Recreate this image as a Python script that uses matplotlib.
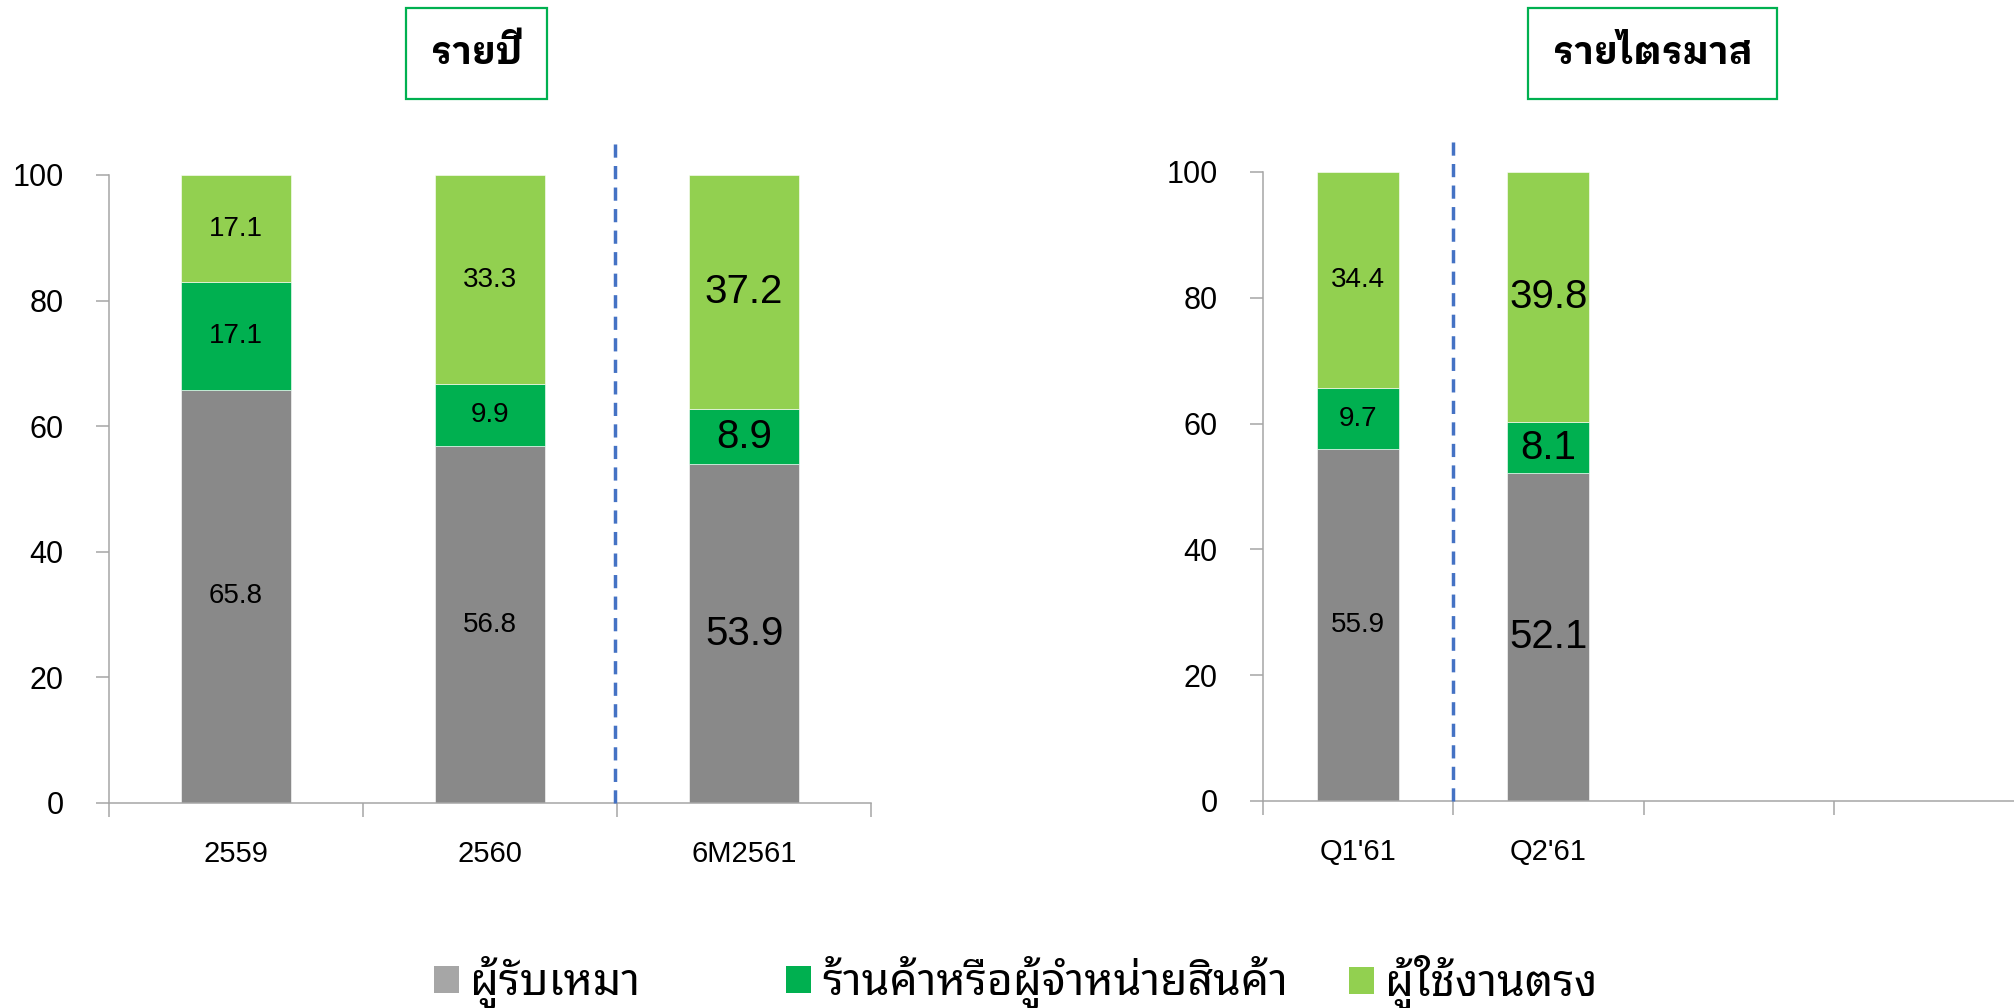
import matplotlib
matplotlib.use("Agg")
import matplotlib.pyplot as plt
from matplotlib.patches import Patch, Rectangle

plt.rcParams['font.family'] = ['Liberation Sans', 'Noto Sans Thai Looped']

# annual data (left panel)
year_labels = ["2559", "2560", "6M2561"]
year_contractor = [65.8, 56.8, 53.9]
year_dealer = [17.1, 9.9, 8.9]
year_direct = [17.1, 33.3, 37.2]

# quarterly data (right panel), last two slots are empty
quarter_labels = ["Q1'61", "Q2'61", "", ""]
quarter_contractor = [55.9, 52.1]
quarter_dealer = [9.7, 8.1]
quarter_direct = [34.4, 39.8]

series_names = ["ผู้รับเหมา", "ร้านค้าหรือผู้จำหน่ายสินค้า", "ผู้ใช้งานตรง"]
colors = ["#898989", "#00B050", "#92D050"]
legend_colors = ["#A6A6A6", "#00B050", "#92D050"]
axis_grey = "#A6A6A6"


def stacked_panel(ax, labels, series, big, divider):
    n = len(labels)
    x = list(range(len(series[0])))
    bottom = [0] * len(x)
    for vals, col in zip(series, colors):
        ax.bar(x, vals, width=0.43, bottom=bottom, color=col,
               edgecolor="white", linewidth=0.4)
        for i, v in enumerate(vals):
            size = 29 if big[i] else 20
            ax.text(x[i], bottom[i] + v / 2, f"{v:.1f}", ha="center",
                    va="center", fontsize=size, color="black")
        bottom = [b + v for b, v in zip(bottom, vals)]

    ax.set_xlim(-0.5, n - 0.5)
    ax.set_ylim(0, 100)
    ax.set_yticks([0, 20, 40, 60, 80, 100])
    ax.set_xticks([i - 0.5 for i in range(n + 1)])
    ax.set_xticklabels([])
    ax.set_xticks(range(n), minor=True)
    ax.set_xticklabels(labels, minor=True)
    ax.tick_params(axis="x", which="major", length=10, width=1.1,
                   color=axis_grey, direction="out")
    ax.tick_params(axis="x", which="minor", length=0, pad=27, labelsize=21)
    ax.tick_params(axis="y", length=9.5, width=1.1, color=axis_grey,
                   pad=23, labelsize=22)
    for s in ["top", "right"]:
        ax.spines[s].set_visible(False)
    for s in ["left", "bottom"]:
        ax.spines[s].set_color(axis_grey)
        ax.spines[s].set_linewidth(1.1)
    ax.plot([divider, divider], [0, 105.3], color="#4472C4", lw=2.5,
            ls=(0, (3.8, 2.4)), clip_on=False, zorder=5)


fig = plt.figure(figsize=(20.15, 10.08), dpi=100)

ax1 = fig.add_axes([0.0541, 0.2034, 0.3782, 0.623])
stacked_panel(ax1, year_labels, [year_contractor, year_dealer, year_direct],
              big=[False, False, True], divider=1.49)

ax2 = fig.add_axes([0.6268, 0.2054, 0.3777, 0.624])
stacked_panel(ax2, quarter_labels,
              [quarter_contractor, quarter_dealer, quarter_direct],
              big=[False, True], divider=0.5)

# titles in green boxes
W, H = 2015, 1008
for (x0, x1), title in [((406, 547), "รายปี"), ((1528, 1777), "รายไตรมาส")]:
    fig.patches.append(Rectangle((x0 / W, 1 - 99 / H), (x1 - x0) / W, 91 / H,
                                 transform=fig.transFigure, fill=False,
                                 edgecolor="#00B050", linewidth=1.6))
    fig.text((x0 + x1) / 2 / W, 1 - 54 / H, title, ha="center", va="center",
             fontsize=27, fontweight="bold",
             family=['IBM Plex Sans Thai Looped', 'Noto Sans Thai Looped'])

# legend entries are spaced unevenly in the original, so one legend each
legend_x = [0.2155, 0.3902, 0.6696]
for name, col, lx in zip(series_names, legend_colors, legend_x):
    fig.legend([Patch(facecolor=col, edgecolor="none")], [name],
               loc="center left", bbox_to_anchor=(lx, 0.025), frameon=False,
               handlelength=0.55, handleheight=0.55, handletextpad=0.25,
               borderpad=0, borderaxespad=0,
               prop={'family': ['Noto Sans Thai Looped'], 'size': 32})

fig.savefig("out.png", dpi=100)
